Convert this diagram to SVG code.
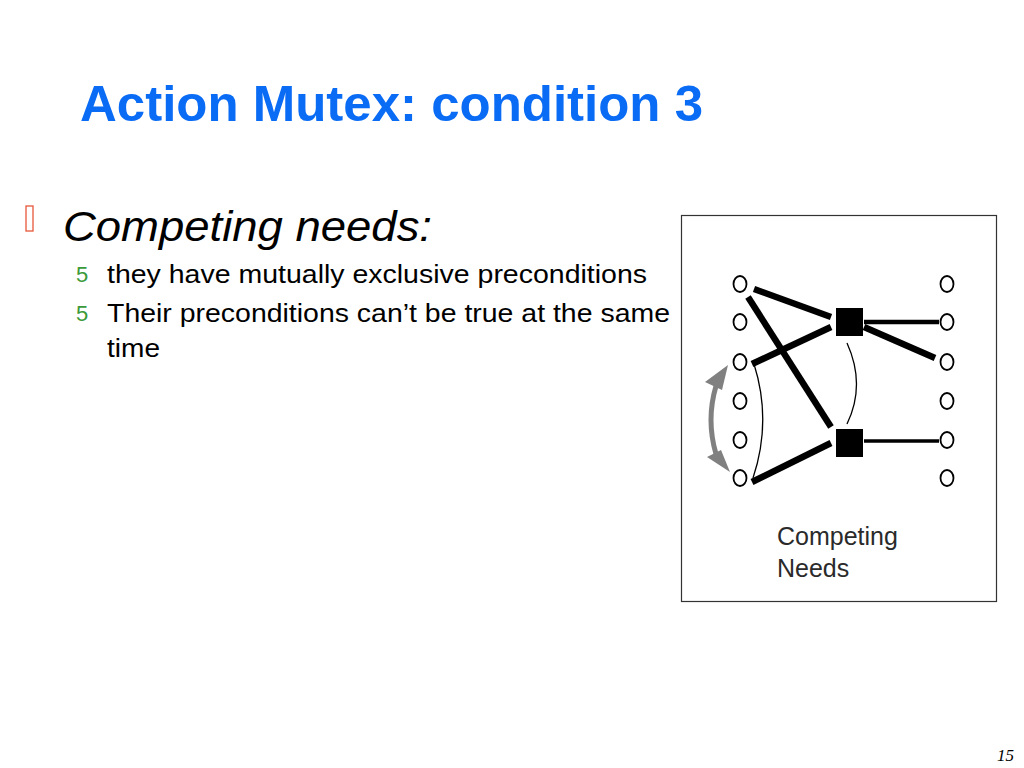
<svg xmlns="http://www.w3.org/2000/svg" width="1024" height="768" viewBox="0 0 1024 768">
<defs>
<style>
.title{font-family:"Liberation Sans",Arial,sans-serif;font-weight:bold;font-size:50px;fill:#0a6cf5}
.h1{font-family:"Liberation Sans",Arial,sans-serif;font-style:italic;font-size:43px;fill:#000}
.b2{font-family:"Liberation Sans",Arial,sans-serif;font-size:26px;fill:#000}
.num{font-family:"Liberation Sans",Arial,sans-serif;font-size:22px;fill:#3a9a3a}
.lbl{font-family:"Liberation Sans",Arial,sans-serif;font-size:25px;fill:#2a2a2a}
.pg{font-family:"Liberation Serif","Times New Roman",serif;font-style:italic;font-size:17px;fill:#000}
.node{fill:#fff;stroke:#000;stroke-width:1.8}
.act{fill:#000}
.edge{stroke:#000;stroke-width:6.5;fill:none;stroke-linecap:butt}
.thin{stroke:#000;stroke-width:1.3;fill:none}
.gray{fill:#808080}
</style>
</defs>
<rect width="1024" height="768" fill="#fff"/>
<text class="title" x="80" y="121" textLength="623" lengthAdjust="spacingAndGlyphs">Action Mutex: condition 3</text>
<rect x="26" y="206" width="7" height="25" fill="none" stroke="#e8563a" stroke-width="1.3"/>
<text class="h1" x="63" y="241" textLength="369" lengthAdjust="spacingAndGlyphs">Competing needs:</text>
<text class="num" x="76" y="282">5</text>
<text class="b2" x="107" y="283" textLength="540" lengthAdjust="spacingAndGlyphs">they have mutually exclusive preconditions</text>
<text class="num" x="76" y="321">5</text>
<text class="b2" x="107" y="322" textLength="563" lengthAdjust="spacingAndGlyphs">Their preconditions can’t be true at the same</text>
<text class="b2" x="107" y="357" textLength="53" lengthAdjust="spacingAndGlyphs">time</text>
<text class="pg" x="997" y="761">15</text>

<g id="frame"><rect x="681.5" y="215.5" width="315" height="386" fill="#fff" stroke="#333" stroke-width="1.2"/></g>

<g id="connectors">
<line class="edge" x1="754" y1="289" x2="831" y2="317"/>
<line class="edge" x1="748" y1="297" x2="831" y2="427"/>
<line class="edge" x1="752" y1="364" x2="831" y2="327"/>
<line class="edge" x1="752" y1="482" x2="831" y2="443"/>
<line class="edge" style="stroke-width:4.5" x1="864" y1="322" x2="939" y2="322"/>
<line class="edge" x1="864" y1="327" x2="935" y2="358"/>
<line class="edge" style="stroke-width:3.5" x1="864" y1="441" x2="939" y2="441"/>
<path class="thin" d="M754,364 Q772,421 753,478"/>
<path class="thin" d="M847,343 Q866,385 847,424"/>
<g id="mutex-arrow">
<path d="M716,386 Q706,420 716,454" fill="none" stroke="#808080" stroke-width="5"/>
<polygon class="gray" points="728,365 705,382 722,390"/>
<polygon class="gray" points="730,472 707,457 721,450"/>
</g>
</g>

<g id="pre1"><ellipse class="node" cx="740" cy="284" rx="6.5" ry="8"/></g>
<g id="pre2"><ellipse class="node" cx="740" cy="322" rx="6.5" ry="8"/></g>
<g id="pre3"><ellipse class="node" cx="740" cy="362" rx="6.5" ry="8"/></g>
<g id="pre4"><ellipse class="node" cx="740" cy="401" rx="6.5" ry="8"/></g>
<g id="pre5"><ellipse class="node" cx="740" cy="440" rx="6.5" ry="8"/></g>
<g id="pre6"><ellipse class="node" cx="740" cy="478" rx="6.5" ry="8"/></g>
<g id="eff1"><ellipse class="node" cx="947" cy="284" rx="6.5" ry="8"/></g>
<g id="eff2"><ellipse class="node" cx="947" cy="322" rx="6.5" ry="8"/></g>
<g id="eff3"><ellipse class="node" cx="947" cy="362" rx="6.5" ry="8"/></g>
<g id="eff4"><ellipse class="node" cx="947" cy="401" rx="6.5" ry="8"/></g>
<g id="eff5"><ellipse class="node" cx="947" cy="440" rx="6.5" ry="8"/></g>
<g id="eff6"><ellipse class="node" cx="947" cy="478" rx="6.5" ry="8"/></g>
<g id="action1"><rect class="act" x="836" y="308" width="27" height="28"/></g>
<g id="action2"><rect class="act" x="836" y="429" width="27" height="28"/></g>
<g id="label"><text class="lbl" x="777" y="545">Competing</text><text class="lbl" x="777" y="577">Needs</text></g>
</svg>
